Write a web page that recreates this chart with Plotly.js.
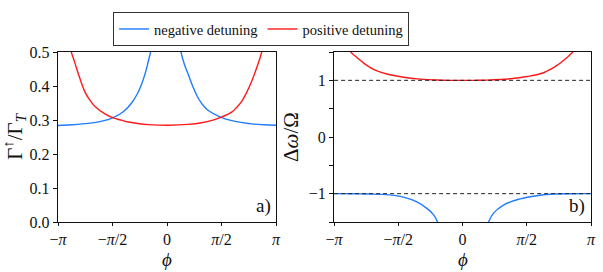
<!DOCTYPE html>
<html>
<head>
<meta charset="utf-8">
<script src="https://cdn.plot.ly/plotly-3.0.1.min.js"></script>
<style>html,body{margin:0;padding:0;background:#fff;}#chart{width:603px;height:272px;}</style>
</head>
<body>
<div id="chart"></div>
<script>
// ---- data ----
const PI = Math.PI;
// panel a) Gamma_up / Gamma_T
const aNegPhi = [-3.1416, -2.75, -2.27, -1.9, -1.55, -1.25, -1.02, -0.85, -0.73, -0.62, -0.54, -0.47, -0.43, null, 0.37, 0.40, 0.5, 0.614, 0.75, 0.902, 1.05, 1.19, 1.527, 1.864, 2.2, 2.441, 2.8, 3.1416];
const aNegVal = [0.284, 0.286, 0.290, 0.296, 0.307, 0.325, 0.350, 0.378, 0.406, 0.44, 0.472, 0.502, 0.53, null, 0.53, 0.502, 0.464, 0.434, 0.397, 0.364, 0.342, 0.328, 0.309, 0.298, 0.292, 0.2885, 0.286, 0.2846];
const aPosPhi = [-2.82, -2.767, -2.656, -2.556, -2.363, -2.219, -2.075, -1.787, -1.548, -1.3, -1.115, -0.8, -0.539, 0.038, 0.6, 1.0, 1.3, 1.527, 1.864, 2.0, 2.153, 2.3, 2.441, 2.63, 2.73, 2.78];
const aPosVal = [0.53, 0.503, 0.468, 0.436, 0.382, 0.358, 0.340, 0.318, 0.306, 0.299, 0.294, 0.289, 0.2865, 0.2846, 0.287, 0.292, 0.299, 0.307, 0.323, 0.336, 0.355, 0.382, 0.414, 0.467, 0.500, 0.53];
// panel b) Delta omega / Omega
const bPosPhi = [-2.80, -2.733, -2.586, -2.424, -2.179, -1.852, -1.445, -1.036, -0.628, -0.3, 0, 0.3, 0.596, 1.166, 1.575, 1.981, 2.31, 2.554, 2.716, 2.78];
const bPosVal = [1.58, 1.497, 1.403, 1.308, 1.195, 1.111, 1.055, 1.022, 1.005, 1.0, 1.0, 1.0, 1.003, 1.027, 1.067, 1.134, 1.263, 1.403, 1.515, 1.6];
const bNegPhi = [-3.1416, -2.7, -2.34, -1.852, -1.445, -1.117, -0.873, -0.711, -0.613, -0.59, null, 0.61, 0.635, 0.758, 1.002, 1.33, 1.737, 2.227, 2.7, 3.1416];
const bNegVal = [-1.0, -1.001, -1.006, -1.017, -1.062, -1.146, -1.259, -1.370, -1.499, -1.56, null, -1.56, -1.5, -1.343, -1.202, -1.107, -1.045, -1.007, -1.001, -1.0];
const refLevels = [1, -1];
const phiEnds = [-PI, PI];

const seriesNames = ['negative detuning', 'positive detuning'];
const xTickVals = [-PI, -PI/2, 0, PI/2, PI];
const xTickText = ['−<i>π</i>', '−<i>π</i>/2', '0', '<i>π</i>/2', '<i>π</i>'];
const aTickVals = [0, 0.1, 0.2, 0.3, 0.4, 0.5];
const aTickText = ['0.0', '0.1', '0.2', '0.3', '0.4', '0.5'];
const bTickVals = [-1.5, -1, -0.5, 0, 0.5, 1, 1.5];
const bTickText = ['', '−1', '', '0', '', '1', ''];

const BLUE = '#1f7bff', RED = '#ff1a1a';
const FONT = 'Liberation Serif';

const lineStyle = (c) => ({color: c, width: 1.4, shape: 'spline', smoothing: 1});
const traces = [
  {x: aNegPhi, y: aNegVal, xaxis: 'x', yaxis: 'y', mode: 'lines', name: seriesNames[0], line: lineStyle(BLUE), connectgaps: false},
  {x: aPosPhi, y: aPosVal, xaxis: 'x', yaxis: 'y', mode: 'lines', name: seriesNames[1], line: lineStyle(RED)},
  {x: bNegPhi, y: bNegVal, xaxis: 'x2', yaxis: 'y2', mode: 'lines', showlegend: false, line: lineStyle(BLUE), connectgaps: false},
  {x: bPosPhi, y: bPosVal, xaxis: 'x2', yaxis: 'y2', mode: 'lines', showlegend: false, line: lineStyle(RED)}
];
refLevels.forEach(v => traces.push({x: phiEnds, y: [v, v], xaxis: 'x2', yaxis: 'y2', mode: 'lines', showlegend: false, line: {color: '#222', width: 1, dash: '4px,3px'}}));

const axCommon = {showline: true, mirror: true, linecolor: '#111', linewidth: 1.2, ticks: 'outside', ticklen: 4, tickwidth: 1, tickcolor: '#111', showgrid: false, zeroline: false, tickfont: {family: FONT, size: 16, color: '#111'}};
const xTickFont = {family: FONT, size: 16, color: '#111'};

const layout = {
  width: 603, height: 272,
  margin: {l: 58, r: 12, t: 44, b: 50},
  paper_bgcolor: '#fff', plot_bgcolor: '#fff',
  font: {family: FONT, color: '#111'},
  showlegend: true,
  legend: {orientation: 'h', x: 0.381, xanchor: 'center', y: 1.235, yanchor: 'top', bordercolor: '#333', borderwidth: 1, font: {family: FONT, size: 14.5, color: '#111'}, bgcolor: '#fff'},
  xaxis: Object.assign({}, axCommon, {domain: [0, 0.409], range: [-PI, PI], tickvals: xTickVals, ticktext: xTickText, tickfont: xTickFont, ticklen: 3}),
  yaxis: Object.assign({}, axCommon, {range: [0, 0.5], tickvals: aTickVals, ticktext: aTickText, title: {text: 'Γ<sup>↑</sup>/Γ<sub><i>T</i></sub>', font: {family: FONT, size: 21}, standoff: 4}}),
  xaxis2: Object.assign({}, axCommon, {domain: [0.518, 1], range: [-PI, PI], anchor: 'y2', tickvals: xTickVals, ticktext: xTickText, tickfont: xTickFont, ticklen: 3}),
  yaxis2: Object.assign({}, axCommon, {anchor: 'x2', range: [-1.5, 1.5], tickvals: bTickVals, ticktext: bTickText, title: {text: 'Δ<i>ω</i>/Ω', font: {family: FONT, size: 21}, standoff: 4}}),
  annotations: [
    {text: '<i>ϕ</i>', xref: 'x domain', yref: 'y domain', x: 0.5, y: -0.218, xanchor: 'center', yanchor: 'middle', showarrow: false, font: {family: FONT, size: 19, color: '#111'}},
    {text: '<i>ϕ</i>', xref: 'x2 domain', yref: 'y2 domain', x: 0.5, y: -0.218, xanchor: 'center', yanchor: 'middle', showarrow: false, font: {family: FONT, size: 19, color: '#111'}},
    {text: 'a)', xref: 'x domain', yref: 'y domain', x: 0.985, y: 0.02, xanchor: 'right', yanchor: 'bottom', showarrow: false, font: {family: FONT, size: 19, color: '#111'}},
    {text: 'b)', xref: 'x2 domain', yref: 'y2 domain', x: 0.985, y: 0.02, xanchor: 'right', yanchor: 'bottom', showarrow: false, font: {family: FONT, size: 19, color: '#111'}}
  ]
};

Plotly.newPlot('chart', traces, layout, {displayModeBar: false, staticPlot: true});
</script>
</body>
</html>
